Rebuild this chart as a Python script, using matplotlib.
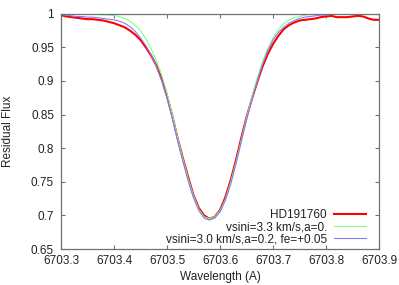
import numpy as np
import matplotlib
matplotlib.use("Agg")
from matplotlib import pyplot as plt

# wavelength grid (A), 0.01 A steps
wave = np.round(np.arange(6703.30, 6703.905, 0.01), 2)

# observed spectrum
hd191760 = [0.998, 0.996, 0.995, 0.994, 0.993, 0.992, 0.992, 0.991, 0.990, 0.988,
            0.986, 0.983, 0.980, 0.975, 0.969, 0.961, 0.950, 0.938, 0.923, 0.903,
            0.878, 0.848, 0.815, 0.785, 0.757, 0.730, 0.711, 0.700, 0.695, 0.698,
            0.708, 0.727, 0.752, 0.782, 0.815, 0.846, 0.873, 0.898, 0.921, 0.940,
            0.955, 0.967, 0.977, 0.983, 0.987, 0.990, 0.991, 0.992, 0.993, 0.995,
            0.996, 0.997, 0.995, 0.995, 0.995, 0.996, 0.997, 0.996, 0.993, 0.991,
            0.991]

# synthetic, vsini=3.3 km/s, a=0
model_a0 = [1.000, 1.000, 0.9999, 0.9998, 0.9997, 0.9995, 0.9993, 0.999, 0.9985, 0.998,
            0.9975, 0.996, 0.993, 0.989, 0.983, 0.975, 0.963, 0.948, 0.930, 0.909,
            0.882, 0.850, 0.816, 0.784, 0.755, 0.729, 0.709, 0.698, 0.695, 0.698,
            0.707, 0.724, 0.749, 0.779, 0.812, 0.845, 0.876, 0.904, 0.928, 0.948,
            0.964, 0.976, 0.985, 0.991, 0.994, 0.996, 0.998, 0.999, 0.9995, 1.000,
            1.000, 1.000, 1.000, 1.000, 1.000, 1.000, 1.000, 1.000, 1.000, 1.000,
            1.000]

# synthetic, vsini=3.0 km/s, a=0.2, fe=+0.05
model_fe = [0.999, 0.998, 0.997, 0.996, 0.996, 0.995, 0.995, 0.994, 0.993, 0.992,
            0.991, 0.989, 0.986, 0.981, 0.974, 0.964, 0.953, 0.939, 0.922, 0.900,
            0.874, 0.844, 0.811, 0.780, 0.751, 0.726, 0.707, 0.696, 0.693, 0.696,
            0.705, 0.722, 0.746, 0.776, 0.809, 0.842, 0.872, 0.899, 0.924, 0.945,
            0.961, 0.972, 0.980, 0.986, 0.990, 0.993, 0.995, 0.996, 0.997, 0.998,
            0.998, 0.999, 0.9995, 0.9998, 1.000, 1.000, 1.000, 1.000, 1.000, 1.000,
            1.000]

labels = ["HD191760", "vsini=3.3 km/s,a=0.", "vsini=3.0 km/s,a=0.2, fe=+0.05"]
colors = ["#ff0000", "#80ff80", "#8080ff"]
widths = [1.5, 0.8, 0.8]
xticks = [6703.3, 6703.4, 6703.5, 6703.6, 6703.7, 6703.8, 6703.9]
yticks = [0.65, 0.7, 0.75, 0.8, 0.85, 0.9, 0.95, 1.0]

plt.rcParams['font.family'] = ['Liberation Sans', 'DejaVu Sans']
plt.rcParams['font.size'] = 8.5

fig = plt.figure(figsize=(3.99, 2.85), dpi=100)
ax = fig.add_axes([0.1529, 0.1263, 0.797, 0.8253])

for series, lab, col, lw in zip([hd191760, model_a0, model_fe], labels, colors, widths):
    ax.plot(wave, series, color=col, lw=lw, label=lab)

ax.set_xlim(6703.3, 6703.9)
ax.set_ylim(0.65, 1.0)
ax.set_xticks(xticks)
ax.set_xticklabels(["%.1f" % t for t in xticks])
ax.set_yticks(yticks)
ax.set_yticklabels(["0.65", "0.7", "0.75", "0.8", "0.85", "0.9", "0.95", "1"])
ax.tick_params(direction='in', length=3, width=0.8, color='#707070',
               top=True, right=True, labelcolor='#222222')
ax.tick_params(axis='x', pad=4)
ax.tick_params(axis='y', pad=5)
for sp in ax.spines.values():
    sp.set_color('#707070')
    sp.set_linewidth(0.9)

ax.set_xlabel("Wavelength (A)", color='#222222', labelpad=3)
ax.set_ylabel("Residual Flux", color='#222222', labelpad=12)

leg = ax.legend(loc='lower right', bbox_to_anchor=(0.959, 0.015), frameon=False,
                markerfirst=False, handlelength=2.7, handletextpad=0.6,
                borderaxespad=0, borderpad=0, labelspacing=0.0)
for t in leg.get_texts():
    t.set_color('#222222')

fig.savefig("out.png", dpi=100)
